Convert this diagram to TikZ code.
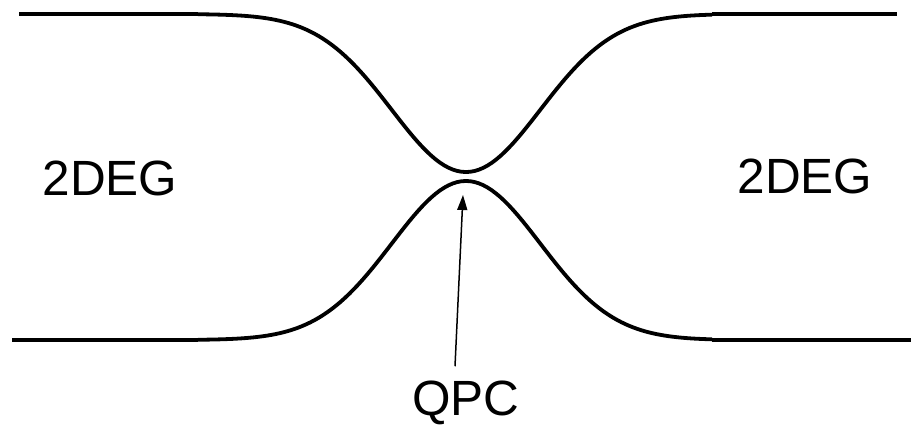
\documentclass[tikz,border=0pt]{standalone}
\usepackage{fontspec}
\setmainfont{Liberation Sans}
\usepackage{tikz}
\usetikzlibrary{arrows.meta}

\begin{document}
\begin{tikzpicture}[x=1pt,y=-1pt,
  wall/.style={line width=3.8pt},
  lbl/.style={font=\fontsize{49.5}{49.5}\selectfont,inner sep=0pt,anchor=base},
  declare function={bump(\x)=exp(-((\x-466)/105)*((\x-466)/105));}]
  \useasboundingbox (0,0) rectangle (911,424);
  % upper gate
  \draw[wall] (19,14)--(198,14);
  \draw[wall] plot[domain=198:712,samples=120] (\x,{14+158*bump(\x)});
  \draw[wall] (712,14)--(897,14);
  % lower gate
  \draw[wall] (12,340)--(198,340);
  \draw[wall] plot[domain=198:712,samples=120] (\x,{340-159*bump(\x)});
  \draw[wall] (712,340)--(911,340);
  \node[lbl] (left) at (110,195) {2DEG};
  \node[lbl] (right) at (805,193) {2DEG};
  \node[lbl] (qpc) at (466,415) {QPC};
  \coordinate (tip) at (463,195);
  \draw[line width=1.5pt,-{Triangle[length=15pt,width=10pt]}] ([shift={(-11pt,14pt)}]qpc.north) -- (tip);
\end{tikzpicture}
\end{document}
